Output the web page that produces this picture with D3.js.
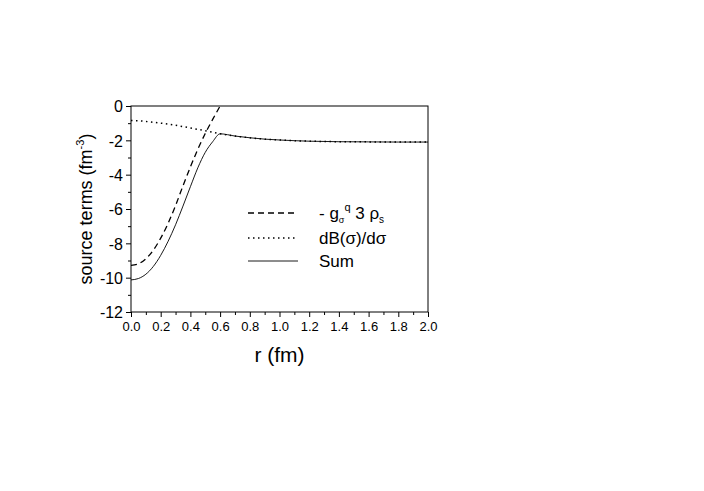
<!DOCTYPE html>
<html>
<head>
<meta charset="utf-8">
<script src="https://cdn.jsdelivr.net/npm/d3@7"></script>
<style>
  body { margin: 0; background: #fff; }
  svg { display: block; }
  text { font-family: "Liberation Sans", Arial, sans-serif; fill: #000; }
</style>
</head>
<body>
<div id="chart"></div>
<script>
// values
const rQuark = [0, 0.05, 0.1, 0.15, 0.2, 0.25, 0.3, 0.35, 0.4, 0.45, 0.5, 0.55, 0.6];
const quarkTerm = [-9.28, -9.19, -8.9, -8.4, -7.7, -6.83, -5.8, -4.65, -3.55, -2.52, -1.6, -0.78, 0];

const rAll = [0, 0.05, 0.1, 0.15, 0.2, 0.25, 0.3, 0.35, 0.4, 0.45, 0.5, 0.55, 0.6,
              0.7, 0.8, 0.9, 1.0, 1.1, 1.2, 1.4, 1.6, 1.8, 2.0];
const dBdSigma = [-0.85, -0.86, -0.9, -0.95, -1.0, -1.05, -1.12, -1.2, -1.28, -1.36, -1.44, -1.53, -1.62,
                  -1.75, -1.85, -1.93, -1.98, -2.02, -2.05, -2.08, -2.09, -2.1, -2.1];
const sumTerm = [-10.13, -10.05, -9.8, -9.35, -8.7, -7.88, -6.92, -5.83, -4.7, -3.6, -2.7, -2.08, -1.62,
                 -1.75, -1.85, -1.93, -1.98, -2.02, -2.05, -2.08, -2.09, -2.1, -2.1];

const xTicks = [0, 0.2, 0.4, 0.6, 0.8, 1.0, 1.2, 1.4, 1.6, 1.8, 2.0];
const yTicks = [0, -2, -4, -6, -8, -10, -12];

const width = 704, height = 491;
const pLeft = 131, pRight = 428, pTop = 106, pBottom = 312;

const svg = d3.select('#chart').append('svg')
  .attr('width', width)
  .attr('height', height);

const x = d3.scaleLinear().domain([0, 2]).range([pLeft, pRight]);
const y = d3.scaleLinear().domain([-12, 0]).range([pBottom, pTop]);

svg.append('defs').append('clipPath').attr('id', 'clip')
  .append('rect')
  .attr('x', pLeft).attr('y', pTop)
  .attr('width', pRight - pLeft).attr('height', pBottom - pTop);

// minor ticks
const xAxisMinor = d3.axisBottom(x).tickValues(d3.range(0.1, 2, 0.2)).tickSize(3).tickFormat('');
const yAxisMinor = d3.axisLeft(y).tickValues(d3.range(-11, 0, 2)).tickSize(3).tickFormat('');
svg.append('g').attr('transform', 'translate(0,' + pBottom + ')').call(xAxisMinor);
svg.append('g').attr('transform', 'translate(' + pLeft + ',0)').call(yAxisMinor);

const xAxis = d3.axisBottom(x).tickValues(xTicks).tickSize(5).tickPadding(5).tickFormat(d3.format('.1f'));
const yAxis = d3.axisLeft(y).tickValues(yTicks).tickSize(5).tickPadding(3)
  .tickFormat(d => d === 0 ? '0' : '-' + Math.abs(d));

const gx = svg.append('g').attr('transform', 'translate(0,' + pBottom + ')').call(xAxis);
const gy = svg.append('g').attr('transform', 'translate(' + pLeft + ',0)').call(yAxis);
gx.selectAll('text').style('font-size', '13px');
gy.selectAll('text').style('font-size', '16px').attr('dy', '0.36em');

svg.selectAll('.domain').remove();
svg.selectAll('.tick line').attr('stroke', '#000');

// frame
svg.append('rect')
  .attr('x', pLeft).attr('y', pTop)
  .attr('width', pRight - pLeft).attr('height', pBottom - pTop)
  .attr('fill', 'none').attr('stroke', '#000').attr('stroke-width', 1);

const line = d3.line().x(d => x(d[0])).y(d => y(d[1])).curve(d3.curveMonotoneX);
const plot = svg.append('g').attr('clip-path', 'url(#clip)');

plot.append('path')
  .datum(rQuark.map((r, i) => [r, quarkTerm[i]]))
  .attr('d', line)
  .attr('fill', 'none').attr('stroke', '#000').attr('stroke-width', 1.3)
  .attr('stroke-dasharray', '6,4');

plot.append('path')
  .datum(rAll.map((r, i) => [r, dBdSigma[i]]))
  .attr('d', line)
  .attr('fill', 'none').attr('stroke', '#000').attr('stroke-width', 1.5)
  .attr('stroke-dasharray', '1.5,3.5');

plot.append('path')
  .datum(rAll.map((r, i) => [r, sumTerm[i]]))
  .attr('d', line)
  .attr('fill', 'none').attr('stroke', '#000').attr('stroke-width', 0.9);

// legend
const legend = [
  { dash: '6,4', w: 1.3, y: 213 },
  { dash: '1.5,3.5', w: 1.5, y: 238 },
  { dash: null, w: 0.9, y: 261 }
];
legend.forEach(l => {
  svg.append('line')
    .attr('x1', 248).attr('x2', 298).attr('y1', l.y).attr('y2', l.y)
    .attr('stroke', '#000').attr('stroke-width', l.w)
    .attr('stroke-dasharray', l.dash);
});

const t1 = svg.append('text').attr('x', 319).attr('y', 219).style('font-size', '17px');
t1.append('tspan').text('- g');
t1.append('tspan').attr('dy', 4).style('font-size', '9px').text('σ');
t1.append('tspan').attr('dy', -12).style('font-size', '11px').text('q');
t1.append('tspan').attr('dy', 8).text(' 3 ρ');
t1.append('tspan').attr('dy', 4).style('font-size', '10px').text('s');

svg.append('text').attr('x', 319).attr('y', 244).style('font-size', '17px').text('dB(σ)/dσ');
svg.append('text').attr('x', 319).attr('y', 267).style('font-size', '17px').text('Sum');

// axis titles
svg.append('text')
  .attr('x', (pLeft + pRight) / 2).attr('y', 362)
  .attr('text-anchor', 'middle')
  .style('font-size', '21px')
  .text('r (fm)');

const yl = svg.append('text')
  .attr('transform', 'translate(92,' + ((pTop + pBottom) / 2) + ') rotate(-90)')
  .attr('text-anchor', 'middle')
  .style('font-size', '18px');
yl.append('tspan').text('source terms (fm');
yl.append('tspan').attr('dy', -8).style('font-size', '11px').text('-3');
yl.append('tspan').attr('dy', 8).text(')');
</script>
</body>
</html>
